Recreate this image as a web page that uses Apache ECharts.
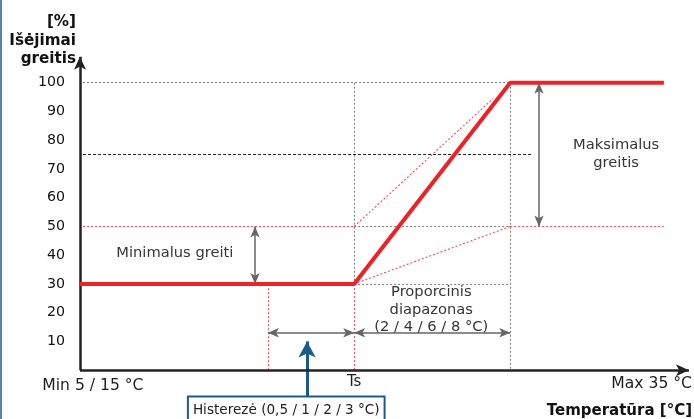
<!DOCTYPE html>
<html>
<head>
<meta charset="utf-8">
<script src="https://cdn.jsdelivr.net/npm/echarts@6/dist/echarts.min.js"></script>
<style>
  html, body { margin: 0; padding: 0; background: #fff; }
  #chart { position: absolute; left: 0; top: 0; width: 694px; height: 419px; }
  #edge { position: absolute; left: 0; top: 0; width: 2px; height: 419px; background: #4f86b3; }
</style>
</head>
<body>
<div id="chart"></div>
<div id="edge"></div>
<script>
// ---- data ----
const yTicks = [10, 20, 30, 40, 50, 60, 70, 80, 90, 100];
const xKeyNames = ['Min 5 / 15 °C', 'Ts', 'Max 35 °C'];
// x positions (schematic temperature units): origin, hysteresis start, Ts, max, line end
const xOrigin = 0, xHyst = 30.7, xTs = 44.8, xMax = 70.3, xEnd = 95.4;
const minSpeed = 30, maxSpeed = 100, midLevel = 50, refLevel = 75;
const outputLine = [[xOrigin, minSpeed], [xTs, minSpeed], [xMax, maxSpeed], [xEnd, maxSpeed]];
const yTitle = '[%]\nIšėjimai\ngreitis';
const xTitle = 'Temperatūra [°C]';
const minLabel = 'Minimalus greiti';
const maxLabel = 'Maksimalus\ngreitis';
const propLabel = 'Proporcinis\ndiapazonas\n(2 / 4 / 6 / 8 °C)';
const hystLabel = 'Histerezė (0,5 / 1 / 2 / 3 °C)';

const FONT = "'DejaVu Sans', Verdana, sans-serif";
const TXT = '#1e1e1e';
const ANN = '#363636';

function seg(a, b) { return [{ coord: a }, { coord: b }]; }

function mlSeries(name, style, symbols, symSize, lines) {
  return {
    name: name, type: 'line', data: [], silent: true,
    markLine: {
      silent: true, animation: false,
      symbol: symbols, symbolSize: symSize,
      label: { show: false },
      emphasis: { disabled: true },
      lineStyle: style,
      data: lines
    }
  };
}

function lbl(x, y, text, extra) {
  return {
    value: [x, y],
    label: Object.assign({
      show: true, position: 'inside', formatter: text,
      color: TXT, fontFamily: FONT, fontSize: 14.7
    }, extra || {})
  };
}

const labelData = [];
yTicks.forEach(t => labelData.push({
  value: [xOrigin, t],
  label: { show: true, position: 'left', distance: 15, formatter: String(t),
           color: '#111', fontFamily: FONT, fontSize: 14.2 }
}));
labelData.push(lbl(2.1, -5.4, xKeyNames[0], { fontSize: 15.6 }));
labelData.push(lbl(xTs, -4.1, xKeyNames[1], { fontSize: 15 }));
labelData.push({ value: [100, -4.9], label: { show: true, position: 'left', distance: 0,
  formatter: xKeyNames[2], color: TXT, fontFamily: FONT, fontSize: 15.6 } });
labelData.push({ value: [100, -14.2], label: { show: true, position: 'left', distance: 0,
  formatter: xTitle, color: '#111', fontFamily: FONT, fontSize: 15, fontWeight: 'bold' } });
labelData.push({ value: [-0.65, 114.6], label: { show: true, position: 'left', distance: 0,
  formatter: yTitle, color: '#111', fontFamily: FONT, fontSize: 15.2, fontWeight: 'bold',
  lineHeight: 18.5, align: 'right' } });
labelData.push(lbl(15.5, 40.7, minLabel, { color: ANN }));
labelData.push(lbl(87.6, 75.0, maxLabel, { color: ANN, lineHeight: 18, align: 'center' }));
labelData.push(lbl(57.4, 21.0, propLabel, { color: ANN, lineHeight: 17.5, align: 'center' }));
labelData.push(lbl(33.7, -13.9, hystLabel, { color: '#222', fontSize: 13.6, backgroundColor: '#fff',
  borderColor: '#1d5a8c', borderWidth: 2, padding: [3, 4, 8, 4] }));

const option = {
  animation: false,
  backgroundColor: '#fff',
  grid: { left: 80, right: 2, top: 54, bottom: 0, containLabel: false },
  xAxis: { type: 'value', min: 0, max: 100, show: false },
  yAxis: { type: 'value', min: -17, max: 110, show: false },
  series: [
    mlSeries('grayDotted', { color: '#808080', width: 1.1, type: [2, 2] }, ['none', 'none'], 0, [
      seg([0.5, maxSpeed], [xMax, maxSpeed]),
      seg([xTs, midLevel], [xMax, midLevel]),
      seg([xTs, minSpeed], [xMax, minSpeed]),
      seg([xTs, maxSpeed], [xTs, minSpeed]),
      seg([xMax, maxSpeed], [xMax, 0])
    ]),
    mlSeries('pinkDotted', { color: '#ef4f55', width: 1.1, type: [2, 2] }, ['none', 'none'], 0, [
      seg([0.5, midLevel], [xTs, midLevel]),
      seg([xMax, midLevel], [xEnd, midLevel]),
      seg([xTs, minSpeed], [xTs, 0]),
      seg([xHyst, 28.5], [xHyst, 0]),
      seg([xTs, midLevel], [67.5, 94.5]),
      seg([xTs, minSpeed], [xMax, midLevel])
    ]),
    mlSeries('blackDashed', { color: '#222', width: 1, type: [3, 2] }, ['none', 'none'], 0, [
      seg([0.5, refLevel], [74, refLevel])
    ]),
    {
      name: 'output', type: 'line', data: outputLine, symbol: 'none', silent: true,
      lineStyle: { color: '#ec2227', width: 4 }, z: 5
    },
    mlSeries('dimArrows', { color: '#666', width: 1.5, type: 'solid' }, ['arrow', 'arrow'], [7, 11], [
      seg([28.6, midLevel], [28.6, minSpeed]),
      seg([75, maxSpeed], [75, midLevel]),
      seg([xHyst, 13], [xTs, 13]),
      seg([xTs, 13], [xMax, 13])
    ]),
    mlSeries('blueArrow', { color: '#1d5a8c', width: 3, type: 'solid' }, ['none', 'arrow'], [13, 16], [
      seg([37.1, -9.4], [37.1, 10.0])
    ]),
    mlSeries('axes', { color: '#222', width: 2.5, type: 'solid' }, ['none', 'arrow'], [9, 13], [
      seg([0, 0], [99.5, 0]),
      seg([0, 0], [0, 109])
    ]),
    {
      name: 'labels', type: 'scatter', symbolSize: 0, silent: true, clip: false, z: 10,
      itemStyle: { opacity: 1 },
      emphasis: { disabled: true },
      data: labelData
    }
  ]
};

const chart = echarts.init(document.getElementById('chart'), null, { renderer: 'canvas' });
chart.setOption(option);
</script>
</body>
</html>
